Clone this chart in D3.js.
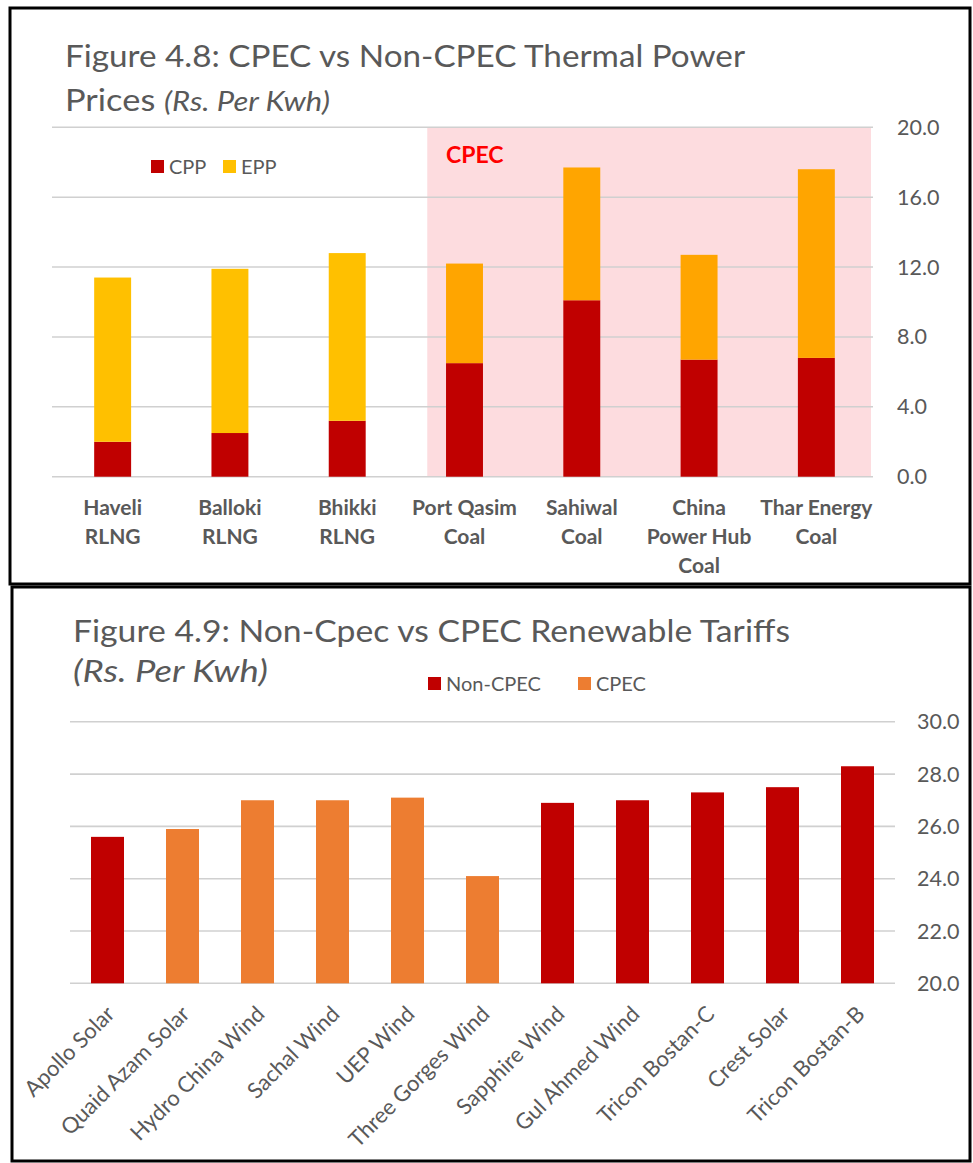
<!DOCTYPE html>
<html>
<head>
<meta charset="utf-8">
<script src="https://cdn.jsdelivr.net/npm/d3@7"></script>
<style>
  body { margin: 0; background: #fff; }
  text { font-family: Lato, "Open Sans", sans-serif; fill: #595959; }
</style>
</head>
<body>
<div id="chart"></div>
<script>
// figure 4.8 data (Rs. per kWh)
var thermalPlants = ["Haveli\nRLNG", "Balloki\nRLNG", "Bhikki\nRLNG", "Port Qasim\nCoal",
                     "Sahiwal\nCoal", "China\nPower Hub\nCoal", "Thar Energy\nCoal"];
var cppValues = [2.0, 2.5, 3.2, 6.5, 10.1, 6.7, 6.8];
var eppValues = [9.4, 9.4, 9.6, 5.7, 7.6, 6.0, 10.8];
var cpecThermal = ["Port Qasim\nCoal", "Sahiwal\nCoal", "China\nPower Hub\nCoal", "Thar Energy\nCoal"];
var thermalTicks = [0, 4, 8, 12, 16, 20];

// figure 4.9 data
var renewablePlants = ["Apollo Solar", "Quaid Azam Solar", "Hydro China Wind", "Sachal Wind",
                       "UEP Wind", "Three Gorges Wind", "Sapphire Wind", "Gul Ahmed Wind",
                       "Tricon Bostan-C", "Crest Solar", "Tricon Bostan-B"];
var tariffValues = [25.6, 25.9, 27.0, 27.0, 27.1, 24.1, 26.9, 27.0, 27.3, 27.5, 28.3];
var tariffGroup = ["Non-CPEC", "CPEC", "CPEC", "CPEC", "CPEC", "CPEC",
                   "Non-CPEC", "Non-CPEC", "Non-CPEC", "Non-CPEC", "Non-CPEC"];
var renewableTicks = [20, 22, 24, 26, 28, 30];

var W = 973, H = 1163;
var fmt = d3.format(".1f");

var svg = d3.select("#chart").append("svg")
    .attr("width", W)
    .attr("height", H);

svg.append("rect").attr("width", W).attr("height", H).attr("fill", "#fff");

// right-hand value labels, no axis line
function valueLabels(g, scale, ticks, xPos) {
    g.selectAll("text.ylab")
        .data(ticks)
        .enter().append("text")
        .attr("class", "ylab")
        .attr("text-anchor", "start")
        .attr("x", xPos)
        .attr("y", scale)
        .attr("dy", "0.35em")
        .style("font-size", "21.5px")
        .text(fmt);
}

// ---------- panel 1 ----------
var p1 = svg.append("g");

p1.append("rect")
    .attr("x", 10).attr("y", 8).attr("width", 960).attr("height", 576)
    .attr("fill", "none").attr("stroke", "#000").attr("stroke-width", 3);

p1.append("text")
    .attr("x", 65).attr("y", 67)
    .attr("textLength", 680).attr("lengthAdjust", "spacingAndGlyphs")
    .style("font-size", "30px")
    .text("Figure 4.8: CPEC vs Non-CPEC Thermal Power");

var sub1 = p1.append("text")
    .attr("x", 65).attr("y", 111)
    .attr("textLength", 265).attr("lengthAdjust", "spacingAndGlyphs")
    .style("font-size", "30px");
sub1.append("tspan").text("Prices ");
sub1.append("tspan").style("font-style", "italic").style("font-size", "27px").text("(Rs. Per Kwh)");

var x1 = d3.scaleBand()
    .domain(thermalPlants)
    .range([54, 875])
    .paddingInner(0.685)
    .paddingOuter(0.3425);

var y1 = d3.scaleLinear().domain([0, 20]).range([476.7, 127.3]);

// CPEC shaded zone
var shadeX = x1(cpecThermal[0]) - x1.step() * 0.16;
p1.append("rect")
    .attr("x", shadeX)
    .attr("y", y1(20))
    .attr("width", x1.range()[1] - 4 - shadeX)
    .attr("height", y1(0) - y1(20))
    .attr("fill", "#FDDCDF");

p1.selectAll("line.grid")
    .data(thermalTicks)
    .enter().append("line")
    .attr("class", "grid")
    .attr("x1", 52).attr("x2", x1.range()[1] - 2)
    .attr("y1", y1).attr("y2", y1)
    .attr("stroke", "#D0D0D0")
    .attr("stroke-width", 1.6);

var stackData = thermalPlants.map(function(d, i) {
    return { name: d, cpp: cppValues[i], epp: eppValues[i] };
});
var stack = d3.stack().keys(["cpp", "epp"])(stackData);

p1.selectAll("g.layer")
    .data(stack)
    .enter().append("g")
    .attr("class", "layer")
    .selectAll("rect")
    .data(function(layer) { return layer.map(function(s) { return { key: layer.key, s: s }; }); })
    .enter().append("rect")
    .attr("x", function(d) { return x1(d.s.data.name); })
    .attr("width", x1.bandwidth())
    .attr("y", function(d) { return y1(d.s[1]); })
    .attr("height", function(d) { return y1(d.s[0]) - y1(d.s[1]); })
    .attr("fill", function(d) {
        if (d.key === "cpp") return "#C00000";
        return cpecThermal.indexOf(d.s.data.name) >= 0 ? "#FFA500" : "#FFC000";
    });

p1.append("text")
    .attr("x", 446).attr("y", 163)
    .style("font-size", "23px")
    .style("font-weight", "bold")
    .style("fill", "#FF0000")
    .text("CPEC");

valueLabels(p1, y1, thermalTicks, 897);

// x labels
var xl1 = p1.selectAll("text.xlab")
    .data(thermalPlants)
    .enter().append("text")
    .attr("class", "xlab")
    .attr("text-anchor", "middle")
    .attr("y", 515)
    .style("font-size", "21px")
    .style("font-weight", "bold");
xl1.selectAll("tspan")
    .data(function(d) { return d.split("\n").map(function(t) { return { t: t, x: x1(d) + x1.bandwidth() / 2 }; }); })
    .enter().append("tspan")
    .attr("x", function(d) { return d.x; })
    .attr("dy", function(d, i) { return i ? 29 : 0; })
    .text(function(d) { return d.t; });

// legend
var leg1 = p1.append("g").attr("transform", "translate(151,160)");
[["CPP", "#C00000"], ["EPP", "#FFC000"]].forEach(function(l, i) {
    leg1.append("rect").attr("x", i * 72).attr("y", 0).attr("width", 13).attr("height", 13).attr("fill", l[1]);
    leg1.append("text").attr("x", i * 72 + 18).attr("y", 13.5).style("font-size", "20px").text(l[0]);
});

// ---------- panel 2 ----------
var p2 = svg.append("g");

p2.append("rect")
    .attr("x", 12).attr("y", 587).attr("width", 958).attr("height", 574)
    .attr("fill", "none").attr("stroke", "#000").attr("stroke-width", 3);

p2.append("text")
    .attr("x", 73).attr("y", 642)
    .attr("textLength", 717).attr("lengthAdjust", "spacingAndGlyphs")
    .style("font-size", "30px")
    .text("Figure 4.9: Non-Cpec vs CPEC Renewable Tariffs");

p2.append("text")
    .attr("x", 73).attr("y", 682)
    .attr("textLength", 195).attr("lengthAdjust", "spacingAndGlyphs")
    .style("font-size", "30px")
    .style("font-style", "italic")
    .text("(Rs. Per Kwh)");

var x2 = d3.scaleBand()
    .domain(renewablePlants)
    .range([70, 895])
    .paddingInner(0.56)
    .paddingOuter(0.28);

var y2 = d3.scaleLinear().domain([20, 30]).range([983.3, 721.8]);
var color2 = d3.scaleOrdinal().domain(["Non-CPEC", "CPEC"]).range(["#C00000", "#ED7D31"]);

p2.selectAll("line.grid")
    .data(renewableTicks)
    .enter().append("line")
    .attr("class", "grid")
    .attr("x1", x2.range()[0]).attr("x2", x2.range()[1])
    .attr("y1", y2).attr("y2", y2)
    .attr("stroke", "#D0D0D0")
    .attr("stroke-width", 1.6);

p2.selectAll("rect.bar")
    .data(renewablePlants)
    .enter().append("rect")
    .attr("class", "bar")
    .attr("x", function(d) { return x2(d); })
    .attr("width", x2.bandwidth())
    .attr("y", function(d, i) { return y2(tariffValues[i]); })
    .attr("height", function(d, i) { return y2(20) - y2(tariffValues[i]); })
    .attr("fill", function(d, i) { return color2(tariffGroup[i]); });

valueLabels(p2, y2, renewableTicks, 917);

p2.selectAll("text.xlab")
    .data(renewablePlants)
    .enter().append("text")
    .attr("class", "xlab")
    .attr("text-anchor", "end")
    .attr("transform", function(d) {
        return "translate(" + (x2(d) + x2.bandwidth() / 2 + 3) + ",1010)rotate(-45)";
    })
    .attr("dy", "0.35em")
    .style("font-size", "22px")
    .text(function(d) { return d; });

var leg2 = p2.append("g").attr("transform", "translate(428,677)");
color2.domain().forEach(function(k, i) {
    leg2.append("rect").attr("x", i * 150).attr("y", 0).attr("width", 13).attr("height", 13).attr("fill", color2(k));
    leg2.append("text").attr("x", i * 150 + 18).attr("y", 13.5).style("font-size", "20px").text(k);
});
</script>
</body>
</html>
